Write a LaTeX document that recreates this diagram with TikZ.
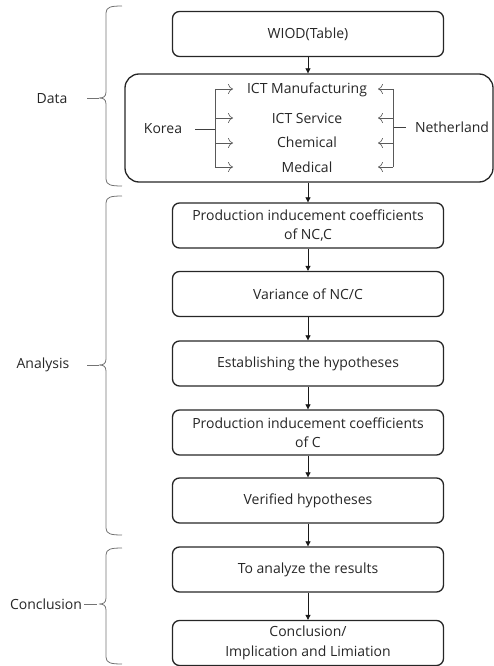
\documentclass[tikz,border=0pt]{standalone}
\usepackage{fontspec}
\setmainfont{Open Sans}
\usetikzlibrary{arrows.meta}
\begin{document}
\begin{tikzpicture}[x=1pt,y=-1pt,
  txt/.style={font=\fontsize{14}{19.5}\selectfont, text=black!85, inner sep=0pt, align=center},
  box/.style={txt, draw=black!85, line width=1.3pt, rounded corners=7pt, minimum width=271pt, minimum height=45pt},
  bigbox/.style={draw=black!85, line width=1.3pt, rounded corners=14pt, minimum width=368pt, minimum height=108pt, inner sep=0pt},
  flow/.style={-{Triangle[length=5pt,width=5pt]}, line width=0.7pt, draw=black!90},
  branch/.style={-{To[length=5pt,width=10pt]}, draw=black!65, line width=0.6pt},
  trunk/.style={draw=black!75, line width=0.9pt},
  brc/.style={draw=black!55, line width=0.8pt},
]
\useasboundingbox (0,0) rectangle (494,666);

% main flow boxes
\node[box] (wiod) at (308,34) {WIOD(Table)};
\node[bigbox] (data) at (309,128) {};
\node[box] (pic1) at (308,225.5) {Production inducement coefficients\\of NC,C};
\node[box] (var) at (308,294) {Variance of NC/C};
\node[box] (hyp) at (308,363.5) {Establishing the hypotheses};
\node[box] (pic2) at (308,432.5) {Production inducement coefficients\\of C};
\node[box] (ver) at (308,500.5) {Verified hypotheses};
\node[box] (res) at (308,569.5) {To analyze the results};
\node[box] (con) at (308,643) {Conclusion/\\Implication and Limiation};

\draw[flow] (wiod) -- (wiod |- data.north);
\draw[flow] (wiod |- data.south) -- (pic1);
\draw[flow] (pic1) -- (var);
\draw[flow] (var) -- (hyp);
\draw[flow] (hyp) -- (pic2);
\draw[flow] (pic2) -- (ver);
\draw[flow] (ver) -- (res);
\draw[flow] (res) -- (con);

% inside the data box
\node[txt] (ictm) at (307,90) {ICT Manufacturing};
\node[txt] (icts) at (307,118) {ICT Service};
\node[txt] (chem) at (307,142) {Chemical};
\node[txt] (med)  at (307,167) {Medical};
\node[txt] (kor)  at (163,129) {Korea};
\node[txt] (neth) at (452,127) {Netherland};

\coordinate (kj) at (215,129);
\coordinate (kt) at (215,89);
\coordinate (kb) at (215,167);
\coordinate (nj) at (393,127);
\coordinate (nt) at (393,89);
\coordinate (nb) at (393,167);
\foreach \n/\y in {a/89,b/118,c/143,d/167}{
  \coordinate (ke\n) at (233,\y);
  \coordinate (ks\n) at (215,\y);
  \coordinate (ne\n) at (378,\y);
  \coordinate (ns\n) at (393,\y);
}
\draw[trunk] (kor.east) ++(13,0) -- (kj);
\draw[trunk] (neth.west) ++(-9,0) -- (nj);
\draw[branch,-] (kt) -- (kb);
\draw[branch,-] (nt) -- (nb);
\foreach \n in {a,b,c,d}{
  \draw[branch] (ks\n) -- (ke\n);
  \draw[branch] (ns\n) -- (ne\n);
}

% braces
\newcommand{\mybrace}[3]{%
  \draw[brc] (122,#1) .. controls (111,#1) and (106,#1+1) .. (106,#1+7)
    -- (106,#2-6) .. controls (106,#2-1) and (103,#2) .. (99,#2)
    .. controls (103,#2) and (106,#2+1) .. (106,#2+6)
    -- (106,#3-7) .. controls (106,#3-1) and (111,#3) .. (122,#3);}
\mybrace{6}{98}{186}
\mybrace{196}{365}{535}
\mybrace{548}{604}{664}

\node[txt] (ldata) at (52,99) {Data};
\node[txt] (lana) at (43,365) {Analysis};
\node[txt] (lcon) at (46,604) {Conclusion};
\coordinate (tdata) at (99,98);
\coordinate (tana) at (99,365);
\coordinate (tcon) at (97,604);
\draw[brc] (87,98) -- (tdata);
\draw[brc] (87,365) -- (tana);
\draw[brc] (lcon.east) ++(2,0) -- (tcon);
\end{tikzpicture}
\end{document}
